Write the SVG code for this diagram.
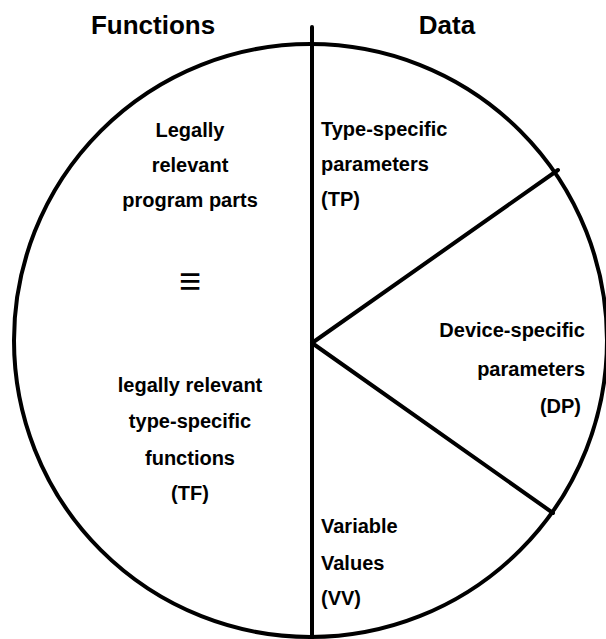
<svg xmlns="http://www.w3.org/2000/svg" width="606" height="639" viewBox="0 0 606 639">
<style>
.t{font-family:"Liberation Sans",Arial,sans-serif;font-weight:bold;font-size:20px;fill:#000}
.h{font-size:26px}
.c{text-anchor:middle}
.e{text-anchor:end}
.ln{stroke:#000;stroke-width:4;fill:none;stroke-linecap:round}
</style>
<rect width="606" height="639" fill="#fff"/>
<g id="connectors">
<circle class="ln" cx="310.5" cy="340.5" r="296.5"/>
<line class="ln" x1="312" y1="27" x2="312" y2="639"/>
<line class="ln" x1="312" y1="343" x2="558" y2="170"/>
<line class="ln" x1="312" y1="343" x2="553" y2="513"/>
</g>
<g id="functions-header"><text class="t h c" x="153" y="34">Functions</text></g>
<g id="data-header"><text class="t h c" x="447" y="34">Data</text></g>
<g id="functions">
<text class="t c" x="190" y="137">Legally</text>
<text class="t c" x="190" y="172">relevant</text>
<text class="t c" x="190" y="207">program parts</text>
<text class="t c" x="190" y="294" style="font-size:38px">≡</text>
<text class="t c" x="190" y="392">legally relevant</text>
<text class="t c" x="190" y="428">type-specific</text>
<text class="t c" x="190" y="465">functions</text>
<text class="t c" x="190" y="500">(TF)</text>
</g>
<g id="tp">
<text class="t" x="321" y="136">Type-specific</text>
<text class="t" x="321" y="171">parameters</text>
<text class="t" x="321" y="206">(TP)</text>
</g>
<g id="dp">
<text class="t e" x="585" y="337">Device-specific</text>
<text class="t e" x="585" y="376">parameters</text>
<text class="t e" x="581" y="413">(DP)</text>
</g>
<g id="vv">
<text class="t" x="321" y="533">Variable</text>
<text class="t" x="321" y="570">Values</text>
<text class="t" x="321" y="605">(VV)</text>
</g>
</svg>
